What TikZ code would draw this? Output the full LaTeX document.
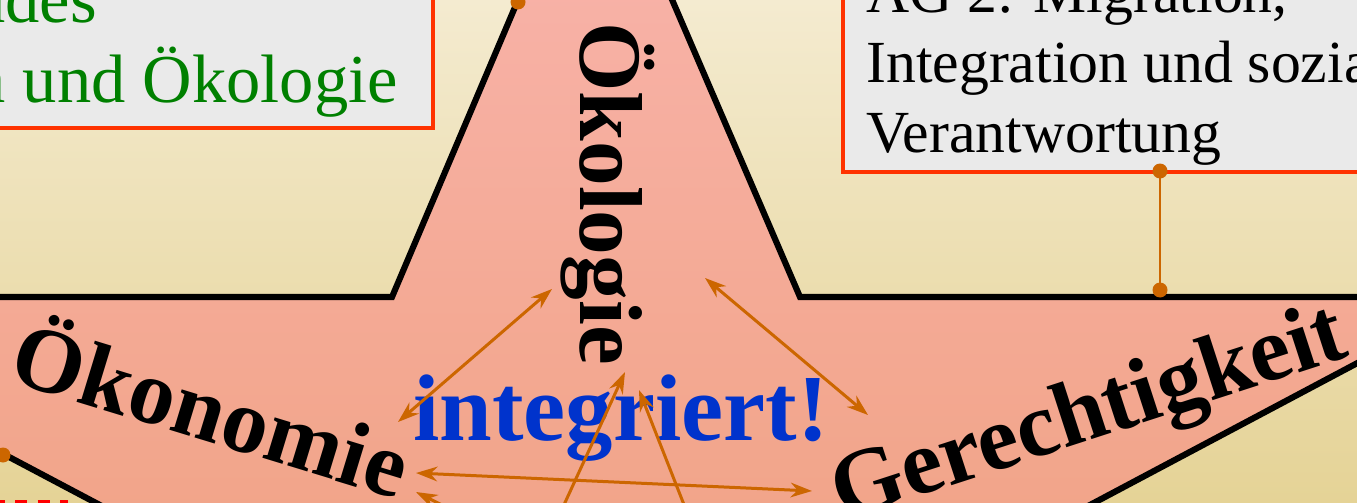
\documentclass[tikz,border=0pt]{standalone}
\usepackage{fontspec}
\setmainfont{Liberation Serif}
\usetikzlibrary{arrows.meta}
\definecolor{bgtop}{RGB}{244,235,208}
\definecolor{bgbot}{RGB}{229,211,150}
\definecolor{startop}{RGB}{248,178,168}
\definecolor{starbot}{RGB}{241,164,136}
\definecolor{boxgray}{RGB}{234,234,234}
\definecolor{redb}{RGB}{255,51,0}
\definecolor{greent}{RGB}{0,128,0}
\definecolor{bluet}{RGB}{0,51,204}
\definecolor{orangec}{RGB}{204,102,0}
\begin{document}
\begin{tikzpicture}[x=0.75pt,y=-0.75pt,
  conn/.style={draw=orangec, line width=2.25pt, -{Stealth[length=16pt,width=11pt]}},
  bconn/.style={draw=orangec, line width=2.25pt, {Stealth[length=16pt,width=11pt]}-{Stealth[length=16pt,width=11pt]}},
  dotc/.style={fill=orangec},
  thinconn/.style={draw=orangec, line width=1.5pt},
  box/.style={fill=boxgray, draw=redb, line width=3pt},
  greentext/.style={anchor=base east, inner sep=0pt, text=greent, font=\fontsize{51.4}{60}\selectfont},
  blacktext/.style={anchor=base west, inner sep=0pt, text=black, font=\fontsize{44.8}{52}\selectfont},
  starlabel/.style={anchor=base west, inner sep=0pt, font=\fontsize{69}{69}\selectfont\bfseries}]
\useasboundingbox (0,0) rectangle (1357,503);
\clip (0,0) rectangle (1357,503);
% background
\fill[top color=bgtop,bottom color=bgbot] (0,0) rectangle (1357,503);
% star
\path[top color=startop,bottom color=starbot, draw=black, line width=4.6pt, line join=miter]
  (535,-40) -- (392,297) -- (-40,297) -- (-40,431) -- (166,540) -- (1024,540)
  -- (1397,342) -- (1397,297) -- (800,297) -- (655,-40) -- cycle;
% boxes
\draw[box] (-20,-20) rectangle (433,128);
\draw[box] (843,-20) rectangle (1380,172);
\node[greentext] (tl1) at (97,23) {ndes};
\node[greentext] (tl2) at (398,103) {n und Ökologie};
\node[blacktext] (tr1) at (866,13) {AG 2: Migration,};
\node[blacktext] (tr2) at (866,83) {Integration und soziale};
\node[blacktext] (tr3) at (866,152) {Verantwortung};
% red dashed fragment bottom left
\draw[red, line width=4.5pt, dash pattern=on 9pt off 7.9pt] (-7.5,503) -- (68,503);
% connector dots
\coordinate (c1) at (1160,171);
\coordinate (c2) at (1160,290);
\draw[thinconn] (c1) -- (c2);
\fill[dotc] (c1) circle (7.5);
\fill[dotc] (c2) circle (7.5);
\coordinate (d1) at (518,2);
\coordinate (d2) at (3,455);
\fill[dotc] (d1) circle (7.5);
\fill[dotc] (d2) circle (7.5);
% star labels
\node[starlabel, rotate=-90, font=\fontsize{67}{67}\selectfont\bfseries] (oekol) at (580,22) {Ökologie};
\node[starlabel, rotate=-17] (oekon) at (6,380) {Ökonomie};
\node[starlabel, rotate=18] (ger) at (842,521) {Gerechtigkeit};
\node[anchor=base west, inner sep=0pt, text=bluet, font=\fontsize{71}{71}\selectfont\bfseries] (integ) at (413,440) {integriert!};
% arrows
\coordinate (a1s) at (398,422); \coordinate (a1e) at (552,289);
\coordinate (a2s) at (705,278); \coordinate (a2e) at (868,415);
\coordinate (a3s) at (416,473); \coordinate (a3e) at (812,491);
\coordinate (a4s) at (557,520); \coordinate (a4e) at (625,372);
\coordinate (a5s) at (690,520); \coordinate (a5e) at (639,390);
\coordinate (a6s) at (460,514); \coordinate (a6e) at (416,492);
\draw[bconn] (a1s) -- (a1e);
\draw[bconn] (a2s) -- (a2e);
\draw[bconn] (a3s) -- (a3e);
\draw[conn] (a4s) -- (a4e);
\draw[conn] (a5s) -- (a5e);
\draw[conn] (a6s) -- (a6e);
\end{tikzpicture}
\end{document}
